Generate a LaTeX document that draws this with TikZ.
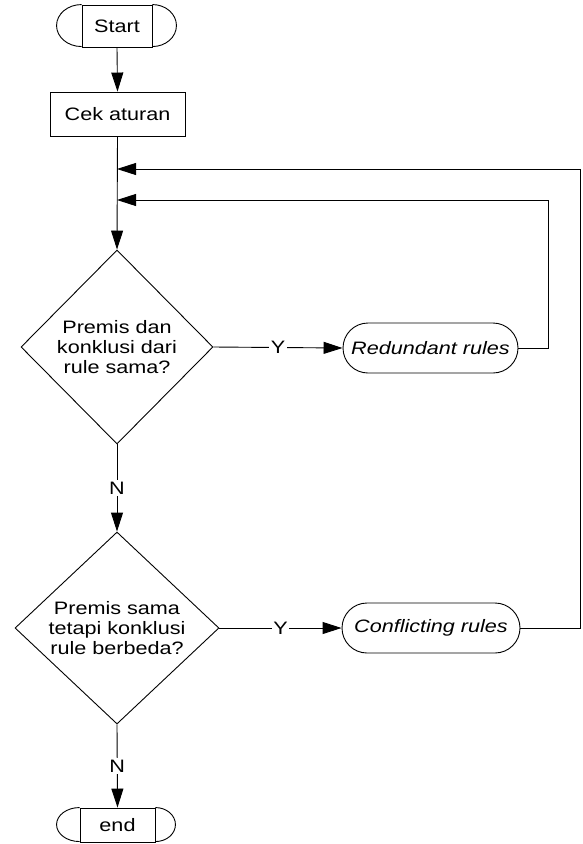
\documentclass[tikz,border=0pt]{standalone}
\usepackage{fontspec}
\setmainfont{Liberation Sans}[FakeStretch=1.2]
\usetikzlibrary{shapes.geometric,shapes.misc,arrows.meta}
\begin{document}
\begin{tikzpicture}[x=1pt,y=-1pt,
  line width=0.9pt,
  every node/.style={font=\fontsize{18}{20}\selectfont},
  arr/.style={-{Triangle[length=19pt,width=12pt]}},
  termbox/.style={draw,rectangle,inner sep=0pt},
  procbox/.style={draw,rectangle,inner sep=0pt,minimum width=135pt,minimum height=44pt},
  decbox/.style={draw,diamond,inner sep=0pt,align=center},
  pillbox/.style={draw,rounded rectangle,inner sep=0pt,minimum height=50pt,font=\fontsize{18}{20}\selectfont\itshape},
  lbl/.style={fill=white,inner sep=1.5pt,pos=0.5}
]
\useasboundingbox (0,0) rectangle (582,844);

% Start terminal
\node[termbox,minimum width=70pt,minimum height=42pt] (start) at (117,26) {Start};
\draw (start.north west) arc[start angle=-90,end angle=-270,x radius=25,y radius=21];
\draw (start.north east) arc[start angle=-90,end angle=90,x radius=24,y radius=21];

% Process
\node[procbox] (cek) at (117.5,114) {Cek aturan};

% Decisions
\node[decbox,minimum width=192pt,minimum height=194pt] (d1) at (117,347) {};
\node[align=center] (t1) at (117,347) {Premis dan\\konklusi dari\\rule sama?};
\node[decbox,minimum width=204pt,minimum height=192pt] (d2) at (117,628) {};
\node[align=center] (t2) at (117,628) {Premis sama\\tetapi konklusi\\rule berbeda?};

% Outcomes
\node[pillbox,minimum width=175pt] (red) at (430.5,348) {Redundant rules};
\node[pillbox,minimum width=178pt] (con) at (431,628) {Conflicting rules};

% End terminal
\node[termbox,minimum width=75pt,minimum height=34pt] (endn) at (117.5,825) {end};
\draw (endn.north west) arc[start angle=-90,end angle=-270,x radius=23,y radius=17];
\draw (endn.north east) arc[start angle=-90,end angle=90,x radius=20,y radius=17];

% Join points on main line
\coordinate (j1) at (117,169);
\coordinate (j2) at (117,200);

% Connectors
\draw[arr] (start.south) -- (cek.north);
\draw[arr] (cek.south) -- (d1.north);
\draw[arr] (d1.east) -- node[lbl]{Y} (red.west);
\draw[arr] (d2.east) -- node[lbl]{Y} (con.west);
\draw[arr] (d1.south) -- node[lbl]{N} (d2.north);
\draw[arr] (d2.south) -- node[lbl]{N} (endn.north);
\draw[arr] (red.east) -- ++(30,0) |- (j2);
\draw[arr] (con.east) -- ++(60,0) |- (j1);
\end{tikzpicture}
\end{document}
